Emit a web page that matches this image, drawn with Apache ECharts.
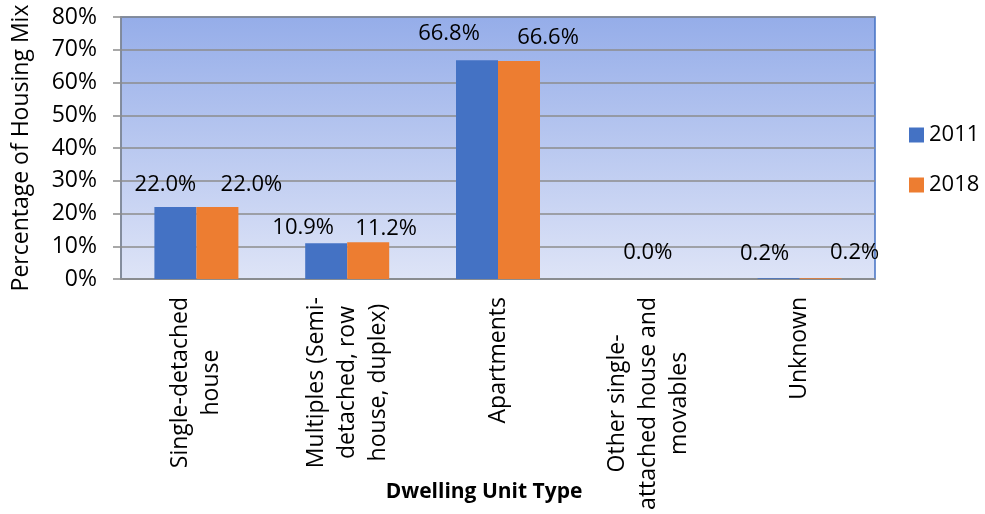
<!DOCTYPE html>
<html>
<head>
<meta charset="utf-8">
<script src="https://cdn.jsdelivr.net/npm/echarts@6/dist/echarts.min.js"></script>
<style>
  html, body { margin: 0; padding: 0; background: #fff; }
  #chart { width: 985px; height: 514px; }
</style>
</head>
<body>
<div id="chart"></div>
<script>
const categories = [
    'Single-detached\nhouse',
    'Multiples (Semi-\ndetached, row\nhouse, duplex)',
    'Apartments',
    'Other single-\nattached house and\nmovables',
    'Unknown',
];
const years = ['2011', '2018'];
const values2011 = [22.0, 10.9, 66.8, 0.0, 0.2];
const values2018 = [22.0, 11.2, 66.6, null, 0.2];
const yTicks = [0, 10, 20, 30, 40, 50, 60, 70, 80];

// label nudges, as in the original (labels were dragged apart)
const offsets2011 = [[-10, -6], [-23, 0], [-28, -10], [20, -10], [-14, -9]];
const offsets2018 = [[34, -6], [18, 2], [29, -7], [0, 0], [34, -10]];

const font = '"Open Sans", "Noto Sans", sans-serif';

function nudge(offsets) {
    return function (params) {
        const o = offsets[params.dataIndex] || [0, 0];
        return { dx: o[0], dy: o[1], hideOverlap: false };
    };
}

const chart = echarts.init(document.getElementById('chart'));

const option = {
    animation: false,
    textStyle: { fontFamily: font },
    grid: {
        left: 121,
        top: 17,
        right: 110,
        bottom: 235,
        outerBoundsMode: 'none',
        containLabel: false,
        show: true,
        borderColor: '#4472C4',
        borderWidth: 1.5,
        backgroundColor: new echarts.graphic.LinearGradient(0, 0, 0, 1, [
            { offset: 0, color: '#95ADE9' },
            { offset: 1, color: '#DEE4F7' },
        ]),
    },
    legend: {
        orient: 'vertical',
        left: 904,
        top: 119,
        itemWidth: 15,
        itemHeight: 15,
        itemGap: 28,
        icon: 'rect',
        textStyle: { fontSize: 22, color: '#000', fontFamily: font },
        data: years,
    },
    xAxis: {
        type: 'category',
        data: categories,
        name: 'Dwelling Unit Type',
        nameLocation: 'middle',
        nameGap: 203,
        nameMoveOverlap: false,
        nameTextStyle: {
            fontSize: 21,
            fontWeight: 'bold',
            color: '#000',
            fontFamily: font,
            padding: [0, 28, 0, 0],
        },
        axisLine: { show: true, lineStyle: { color: '#8C8C8C', width: 1.5 } },
        axisTick: { show: false },
        axisLabel: {
            interval: 0,
            rotate: 90,
            margin: 18,
            hideOverlap: false,
            formatter: function (val) {
                return val.split('\n').map((s) => '{c|' + s + '}').join('\n');
            },
            rich: {
                c: { align: 'center', fontSize: 23, lineHeight: 31, color: '#000', fontFamily: font },
            },
        },
    },
    yAxis: {
        type: 'value',
        min: yTicks[0],
        max: yTicks[yTicks.length - 1],
        interval: 10,
        name: 'Percentage of Housing Mix',
        nameLocation: 'middle',
        nameGap: 88,
        nameMoveOverlap: false,
        nameTextStyle: { fontSize: 23, color: '#000', fontFamily: font },
        axisLine: { show: true, lineStyle: { color: '#8C8C8C', width: 1.5 } },
        axisTick: { show: true, length: 8, lineStyle: { color: '#8C8C8C', width: 1.5 } },
        axisLabel: {
            margin: 24,
            fontSize: 23,
            color: '#000',
            fontFamily: font,
            formatter: '{value}%',
        },
        splitLine: { show: true, lineStyle: { color: '#8C8C8C', width: 1.5 } },
    },
    series: [
        {
            name: years[0],
            type: 'bar',
            barWidth: 42,
            barGap: '0%',
            itemStyle: { color: '#4472C4' },
            labelLayout: nudge(offsets2011),
            label: {
                show: true,
                position: 'top',
                fontSize: 22,
                color: '#000',
                fontFamily: font,
                formatter: (p) => p.value.toFixed(1) + '%',
            },
            data: values2011.map((v) => (v == null ? '-' : v)),
        },
        {
            name: years[1],
            type: 'bar',
            barWidth: 42,
            barGap: '0%',
            itemStyle: { color: '#ED7D31' },
            labelLayout: nudge(offsets2018),
            label: {
                show: true,
                position: 'top',
                fontSize: 22,
                color: '#000',
                fontFamily: font,
                formatter: (p) => p.value.toFixed(1) + '%',
            },
            data: values2018.map((v) => (v == null ? '-' : v)),
        },
    ],
};

chart.setOption(option);
</script>
</body>
</html>
